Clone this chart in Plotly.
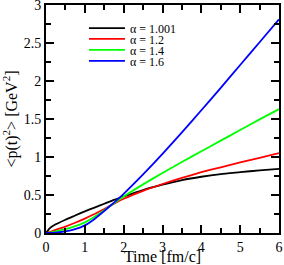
import plotly.graph_objects as go

time = [0, 0.1, 0.25, 0.5, 0.75, 1, 1.25, 1.5, 1.75, 2, 2.5, 3, 3.5, 4, 4.5, 5, 5.5, 6]
p2_a1001 = [0, 0.065, 0.115, 0.175, 0.23, 0.285, 0.335, 0.385, 0.435, 0.48, 0.565, 0.635, 0.695, 0.74, 0.775, 0.80, 0.825, 0.845]
p2_a12 = [0, 0.012, 0.04, 0.085, 0.135, 0.19, 0.25, 0.315, 0.385, 0.45, 0.555, 0.645, 0.725, 0.80, 0.865, 0.93, 0.99, 1.05]
p2_a14 = [0, 0.005, 0.02, 0.05, 0.09, 0.14, 0.215, 0.30, 0.39, 0.48, 0.64, 0.79, 0.935, 1.075, 1.215, 1.355, 1.495, 1.63]
p2_a16 = [0, 0.0005, 0.005, 0.02, 0.05, 0.10, 0.185, 0.29, 0.40, 0.515, 0.77, 1.04, 1.325, 1.615, 1.91, 2.21, 2.51, 2.81]

names = ["α = 1.001", "α = 1.2", "α = 1.4", "α = 1.6"]
values = [p2_a1001, p2_a12, p2_a14, p2_a16]
colors = ["#000000", "#ff0000", "#00ff00", "#0000ff"]

FONT = "Liberation Serif"

fig = go.Figure()
legend_ids = ["legend", "legend2", "legend3", "legend4"]
for name, ys, col, lg in zip(names, values, colors, legend_ids):
    fig.add_trace(go.Scatter(x=time, y=ys, mode="lines", name=name, legend=lg,
                             line=dict(color=col, width=1.8, shape="spline", smoothing=0.5)))

axis_common = dict(
    showline=True, linecolor="black", linewidth=2, mirror="allticks",
    ticks="inside", ticklen=8, tickwidth=1.5, tickcolor="black",
    showgrid=False, zeroline=False, ticklabeloverflow="allow",
    tickfont=dict(family=FONT, size=14, color="black"),
)

fig.update_xaxes(range=[0, 6], dtick=1, tick0=0, autorange=False,
                 minor=dict(dtick=0.5, ticks="inside", ticklen=5, tickwidth=1.5, tickcolor="black"),
                 title=dict(text="Time [fm/c]", font=dict(family=FONT, size=16, color="black"), standoff=0),
                 **axis_common)
fig.update_yaxes(range=[0, 3], dtick=0.5, tick0=0, autorange=False,
                 minor=dict(dtick=0.25, ticks="inside", ticklen=5, tickwidth=1.5, tickcolor="black"),
                 title=dict(text="<p(t)<sup>2</sup>> [GeV<sup>2</sup>]", font=dict(family=FONT, size=16, color="black"), standoff=4),
                 **axis_common)

legend_y = [0.899, 0.851, 0.803, 0.755]
legend_layout = {}
for lg, yy in zip(legend_ids, legend_y):
    legend_layout[lg] = dict(x=0.163, y=yy, xanchor="left", yanchor="middle",
                             font=dict(family=FONT, size=12, color="black"),
                             bgcolor="rgba(0,0,0,0)", borderwidth=0, itemwidth=36)

fig.update_layout(
    width=284, height=265, autosize=False,
    margin=dict(l=46, r=5, t=5, b=32, autoexpand=False),
    paper_bgcolor="white", plot_bgcolor="white",
    showlegend=True,
    **legend_layout,
)

fix_margin = "document.body.style.margin='0';document.body.style.padding='0';"

fig.write_html("out.html", post_script=fix_margin, config={"displayModeBar": False})
